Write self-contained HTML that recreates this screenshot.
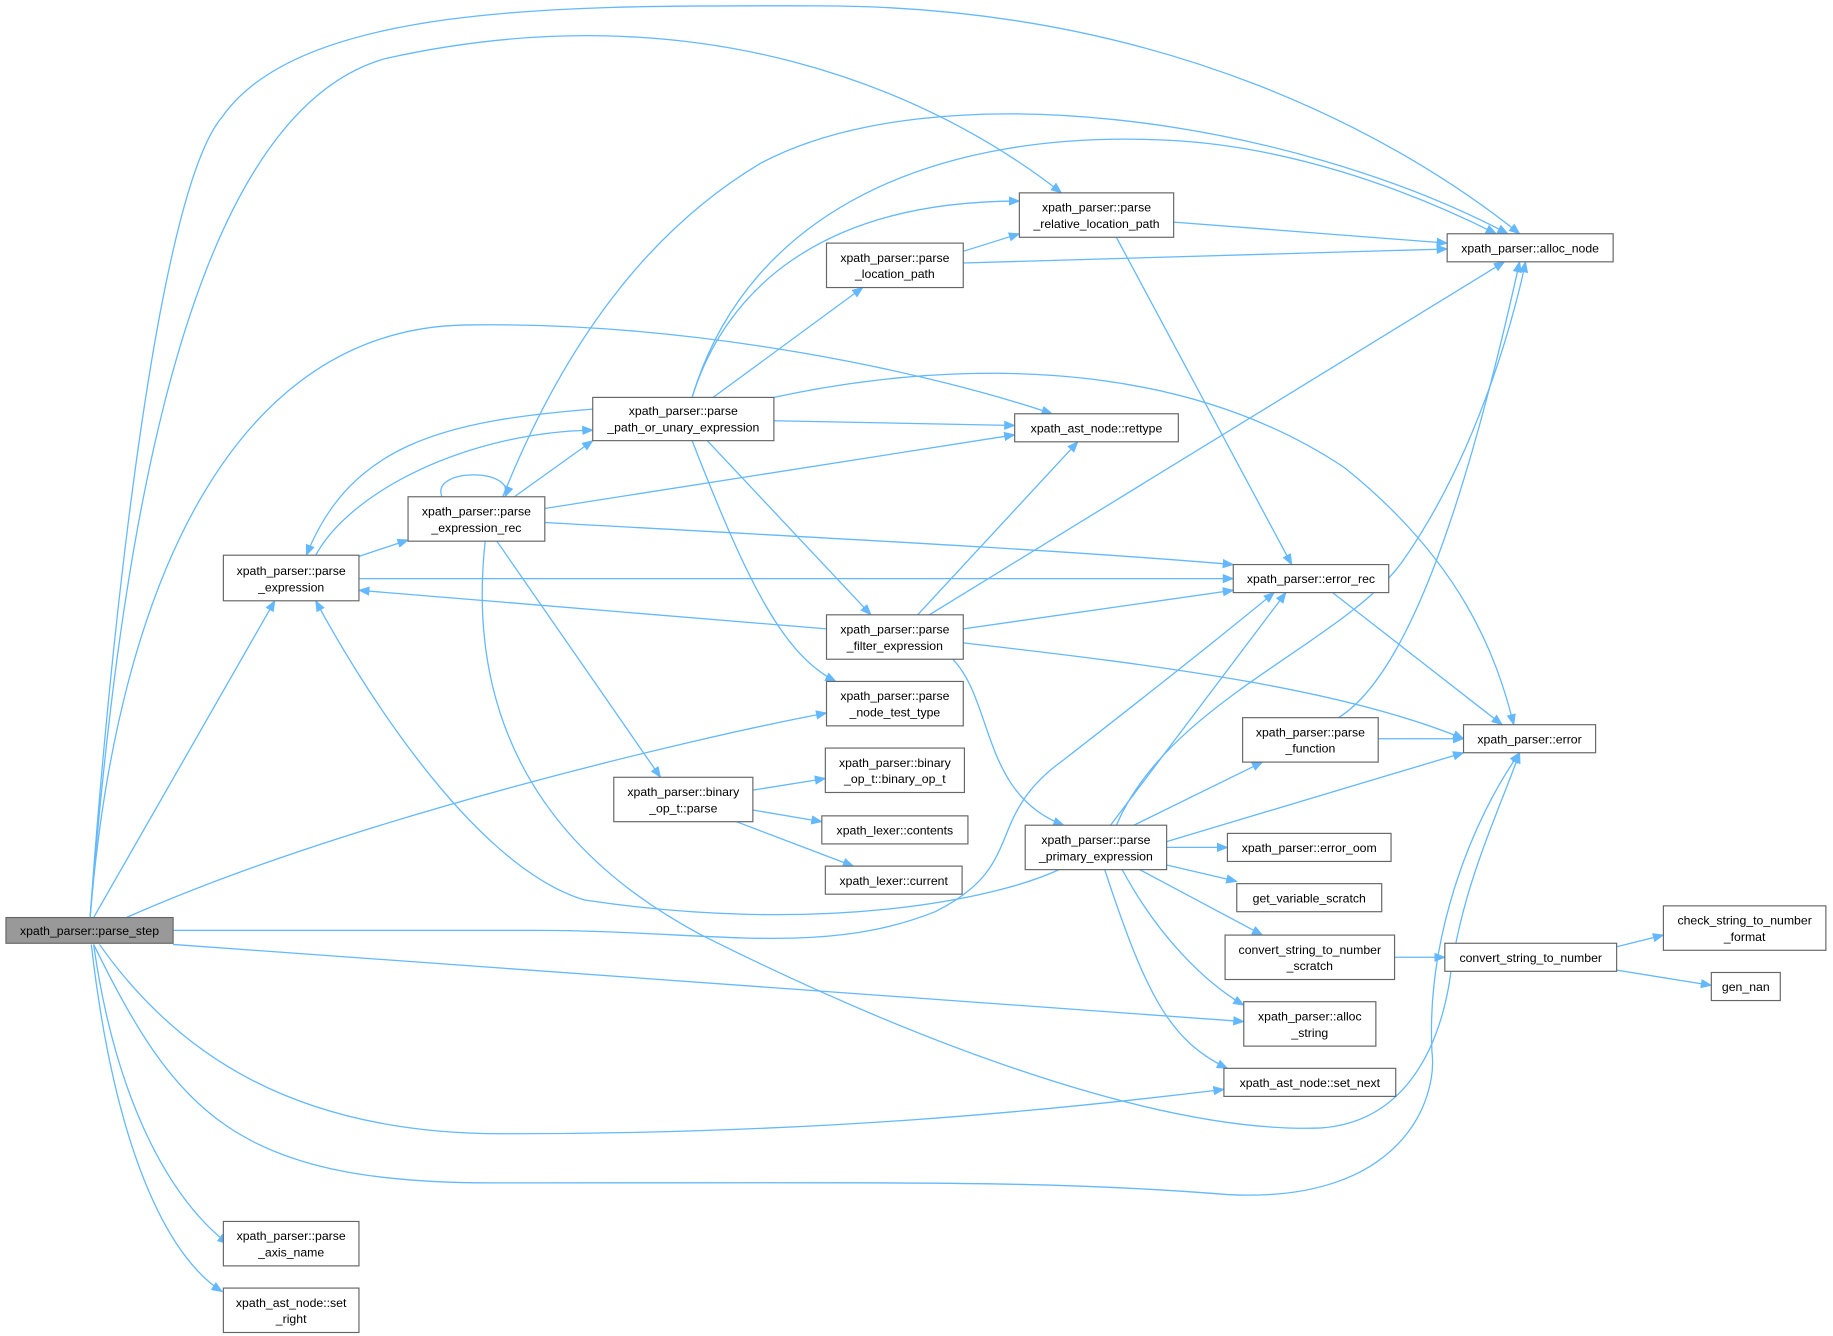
<!DOCTYPE html>
<html><head><meta charset="utf-8"><style>
html,body{margin:0;padding:0;background:#fff;}
svg{display:block;}
text{font-family:"Liberation Sans",Arial,sans-serif;font-size:10.5px;fill:#000;text-anchor:middle;}
.n{fill:#fff;stroke:#666;stroke-width:1;}
.e{fill:none;stroke:#63b8ff;stroke-width:1.1;}
</style></head><body>
<svg width="1833" height="1336" viewBox="0 0 1568 1143" xmlns="http://www.w3.org/2000/svg">
<defs><marker id="a" markerWidth="10" markerHeight="8" refX="9" refY="4" orient="auto" markerUnits="userSpaceOnUse"><path d="M0,0 L10,4 L0,8 z" fill="#63b8ff"/></marker></defs>
<g class="e" marker-end="url(#a)">
<path d="M77,785 C90,600 130,170 190,100 C260,0 500,5 700,5 C1000,5 1200,120 1300,200"/>
<path d="M77,785 C100,500 150,100 330,50 C600,-10 800,80 908,165"/>
<path d="M77,785 C100,500 200,280 400,278 C600,275 800,320 900,354"/>
<path d="M80,785 L235,514"/>
<path d="M108,785 C300,700 600,630 707,610"/>
<path d="M148,796 L450,796 C600,795 700,820 800,780 C880,740 840,700 910,650 C1000,580 1050,540 1090,507"/>
<path d="M148,808 L1064,874"/>
<path d="M85,808 C150,900 250,970 430,970 C700,970 900,950 1047,932"/>
<path d="M80,808 C150,950 200,1012 420,1012 C800,1012 900,1010 1050,1022 C1200,1030 1230,940 1225,900 C1220,800 1260,700 1300,644"/>
<path d="M80,808 C100,950 150,1030 195,1064"/>
<path d="M78,808 C100,1000 150,1080 190,1105"/>
<path d="M307,476 L349,462"/>
<path d="M270,475 C300,420 400,370 507,368"/>
<path d="M307,495 L1055,495"/>
<path d="M507,350 C380,360 300,380 262,475"/>
<path d="M707,538 L307,505"/>
<path d="M906,744 C850,770 700,800 500,770 C400,740 300,570 270,514"/>
<path d="M378,425 C368,400 442,400 432,425"/>
<path d="M440,425 L507,377"/>
<path d="M466,435 L868,372"/>
<path d="M466,447 C700,460 900,470 1055,483"/>
<path d="M430,425 C480,300 550,200 650,140 C800,60 1100,100 1290,200"/>
<path d="M425,463 L565,665"/>
<path d="M415,463 C400,600 450,720 600,800 C800,900 1000,970 1130,965 C1200,960 1230,900 1240,840 C1250,760 1280,700 1300,644"/>
<path d="M610,340 L738,246"/>
<path d="M592,340 C620,250 700,172 872,172"/>
<path d="M592,340 C640,180 800,110 1000,120 C1100,125 1200,160 1280,200"/>
<path d="M662,360 L868,364"/>
<path d="M662,340 C800,310 1000,300 1150,400 C1250,480 1280,560 1295,620"/>
<path d="M605,377 L745,526"/>
<path d="M592,377 C640,500 670,560 715,583"/>
<path d="M824,215 L872,200"/>
<path d="M824,225 L1238,213"/>
<path d="M1004,190 L1238,208"/>
<path d="M955,203 L1105,483"/>
<path d="M785,526 L922,378"/>
<path d="M795,526 L1287,224"/>
<path d="M824,538 L1055,505"/>
<path d="M824,550 C1000,570 1150,590 1252,632"/>
<path d="M815,564 C850,600 840,680 910,706"/>
<path d="M950,706 L1100,507"/>
<path d="M955,706 C1000,600 1150,550 1200,480 C1270,380 1300,250 1305,224"/>
<path d="M970,706 L1080,652"/>
<path d="M998,720 L1252,644"/>
<path d="M998,725 L1050,725"/>
<path d="M998,740 L1058,754"/>
<path d="M975,744 L1080,800"/>
<path d="M960,744 C990,800 1030,840 1064,860"/>
<path d="M945,744 C980,850 1000,890 1050,914"/>
<path d="M1179,632 L1252,632"/>
<path d="M1145,614 C1200,580 1250,450 1300,224"/>
<path d="M1140,507 L1285,620"/>
<path d="M644,676 L706,666"/>
<path d="M644,693 L703,703"/>
<path d="M630,703 L730,741"/>
<path d="M1193,819 L1236,819"/>
<path d="M1383,810 L1423,800"/>
<path d="M1383,830 L1464,843"/>
</g>
<rect x="5" y="785" width="143" height="22" fill="#999" stroke="#666"/><text x="76.5" y="800">xpath_parser::parse_step</text>
<g>
<rect class="n" x="191" y="475" width="116" height="39"/><text x="249" y="492">xpath_parser::parse</text><text x="249" y="506">_expression</text>
<rect class="n" x="349" y="425" width="117" height="38"/><text x="407.5" y="441">xpath_parser::parse</text><text x="407.5" y="455">_expression_rec</text>
<rect class="n" x="507" y="340" width="155" height="37"/><text x="584.5" y="355">xpath_parser::parse</text><text x="584.5" y="369">_path_or_unary_expression</text>
<rect class="n" x="707" y="208" width="117" height="38"/><text x="765.5" y="224">xpath_parser::parse</text><text x="765.5" y="238">_location_path</text>
<rect class="n" x="872" y="165" width="132" height="38"/><text x="938" y="181">xpath_parser::parse</text><text x="938" y="195">_relative_location_path</text>
<rect class="n" x="1238" y="200" width="142" height="24"/><text x="1309" y="216">xpath_parser::alloc_node</text>
<rect class="n" x="868" y="354" width="140" height="24"/><text x="938" y="370">xpath_ast_node::rettype</text>
<rect class="n" x="1055" y="483" width="133" height="24"/><text x="1121.5" y="499">xpath_parser::error_rec</text>
<rect class="n" x="707" y="526" width="117" height="38"/><text x="765.5" y="542">xpath_parser::parse</text><text x="765.5" y="556">_filter_expression</text>
<rect class="n" x="707" y="583" width="117" height="38"/><text x="765.5" y="599">xpath_parser::parse</text><text x="765.5" y="613">_node_test_type</text>
<rect class="n" x="525" y="665" width="119" height="38"/><text x="584.5" y="681">xpath_parser::binary</text><text x="584.5" y="695">_op_t::parse</text>
<rect class="n" x="706" y="640" width="119" height="38"/><text x="765.5" y="656">xpath_parser::binary</text><text x="765.5" y="670">_op_t::binary_op_t</text>
<rect class="n" x="703" y="698" width="125" height="24"/><text x="765.5" y="714">xpath_lexer::contents</text>
<rect class="n" x="706" y="741" width="117" height="24"/><text x="764.5" y="757">xpath_lexer::current</text>
<rect class="n" x="877" y="706" width="121" height="38"/><text x="937.5" y="722">xpath_parser::parse</text><text x="937.5" y="736">_primary_expression</text>
<rect class="n" x="1063" y="614" width="116" height="38"/><text x="1121" y="630">xpath_parser::parse</text><text x="1121" y="644">_function</text>
<rect class="n" x="1252" y="620" width="113" height="24"/><text x="1308.5" y="636">xpath_parser::error</text>
<rect class="n" x="1050" y="713" width="140" height="24"/><text x="1120" y="729">xpath_parser::error_oom</text>
<rect class="n" x="1058" y="756" width="124" height="24"/><text x="1120" y="772">get_variable_scratch</text>
<rect class="n" x="1048" y="800" width="145" height="38"/><text x="1120.5" y="816">convert_string_to_number</text><text x="1120.5" y="830">_scratch</text>
<rect class="n" x="1236" y="807" width="147" height="24"/><text x="1309.5" y="823">convert_string_to_number</text>
<rect class="n" x="1423" y="775" width="139" height="38"/><text x="1492.5" y="791">check_string_to_number</text><text x="1492.5" y="805">_format</text>
<rect class="n" x="1464" y="832" width="59" height="24"/><text x="1493.5" y="848">gen_nan</text>
<rect class="n" x="1064" y="857" width="113" height="38"/><text x="1120.5" y="873">xpath_parser::alloc</text><text x="1120.5" y="887">_string</text>
<rect class="n" x="1047" y="914" width="147" height="24"/><text x="1120.5" y="930">xpath_ast_node::set_next</text>
<rect class="n" x="191" y="1045" width="116" height="38"/><text x="249" y="1061">xpath_parser::parse</text><text x="249" y="1075">_axis_name</text>
<rect class="n" x="191" y="1102" width="116" height="38"/><text x="249" y="1118">xpath_ast_node::set</text><text x="249" y="1132">_right</text>
</g>
</svg>
</body></html>
